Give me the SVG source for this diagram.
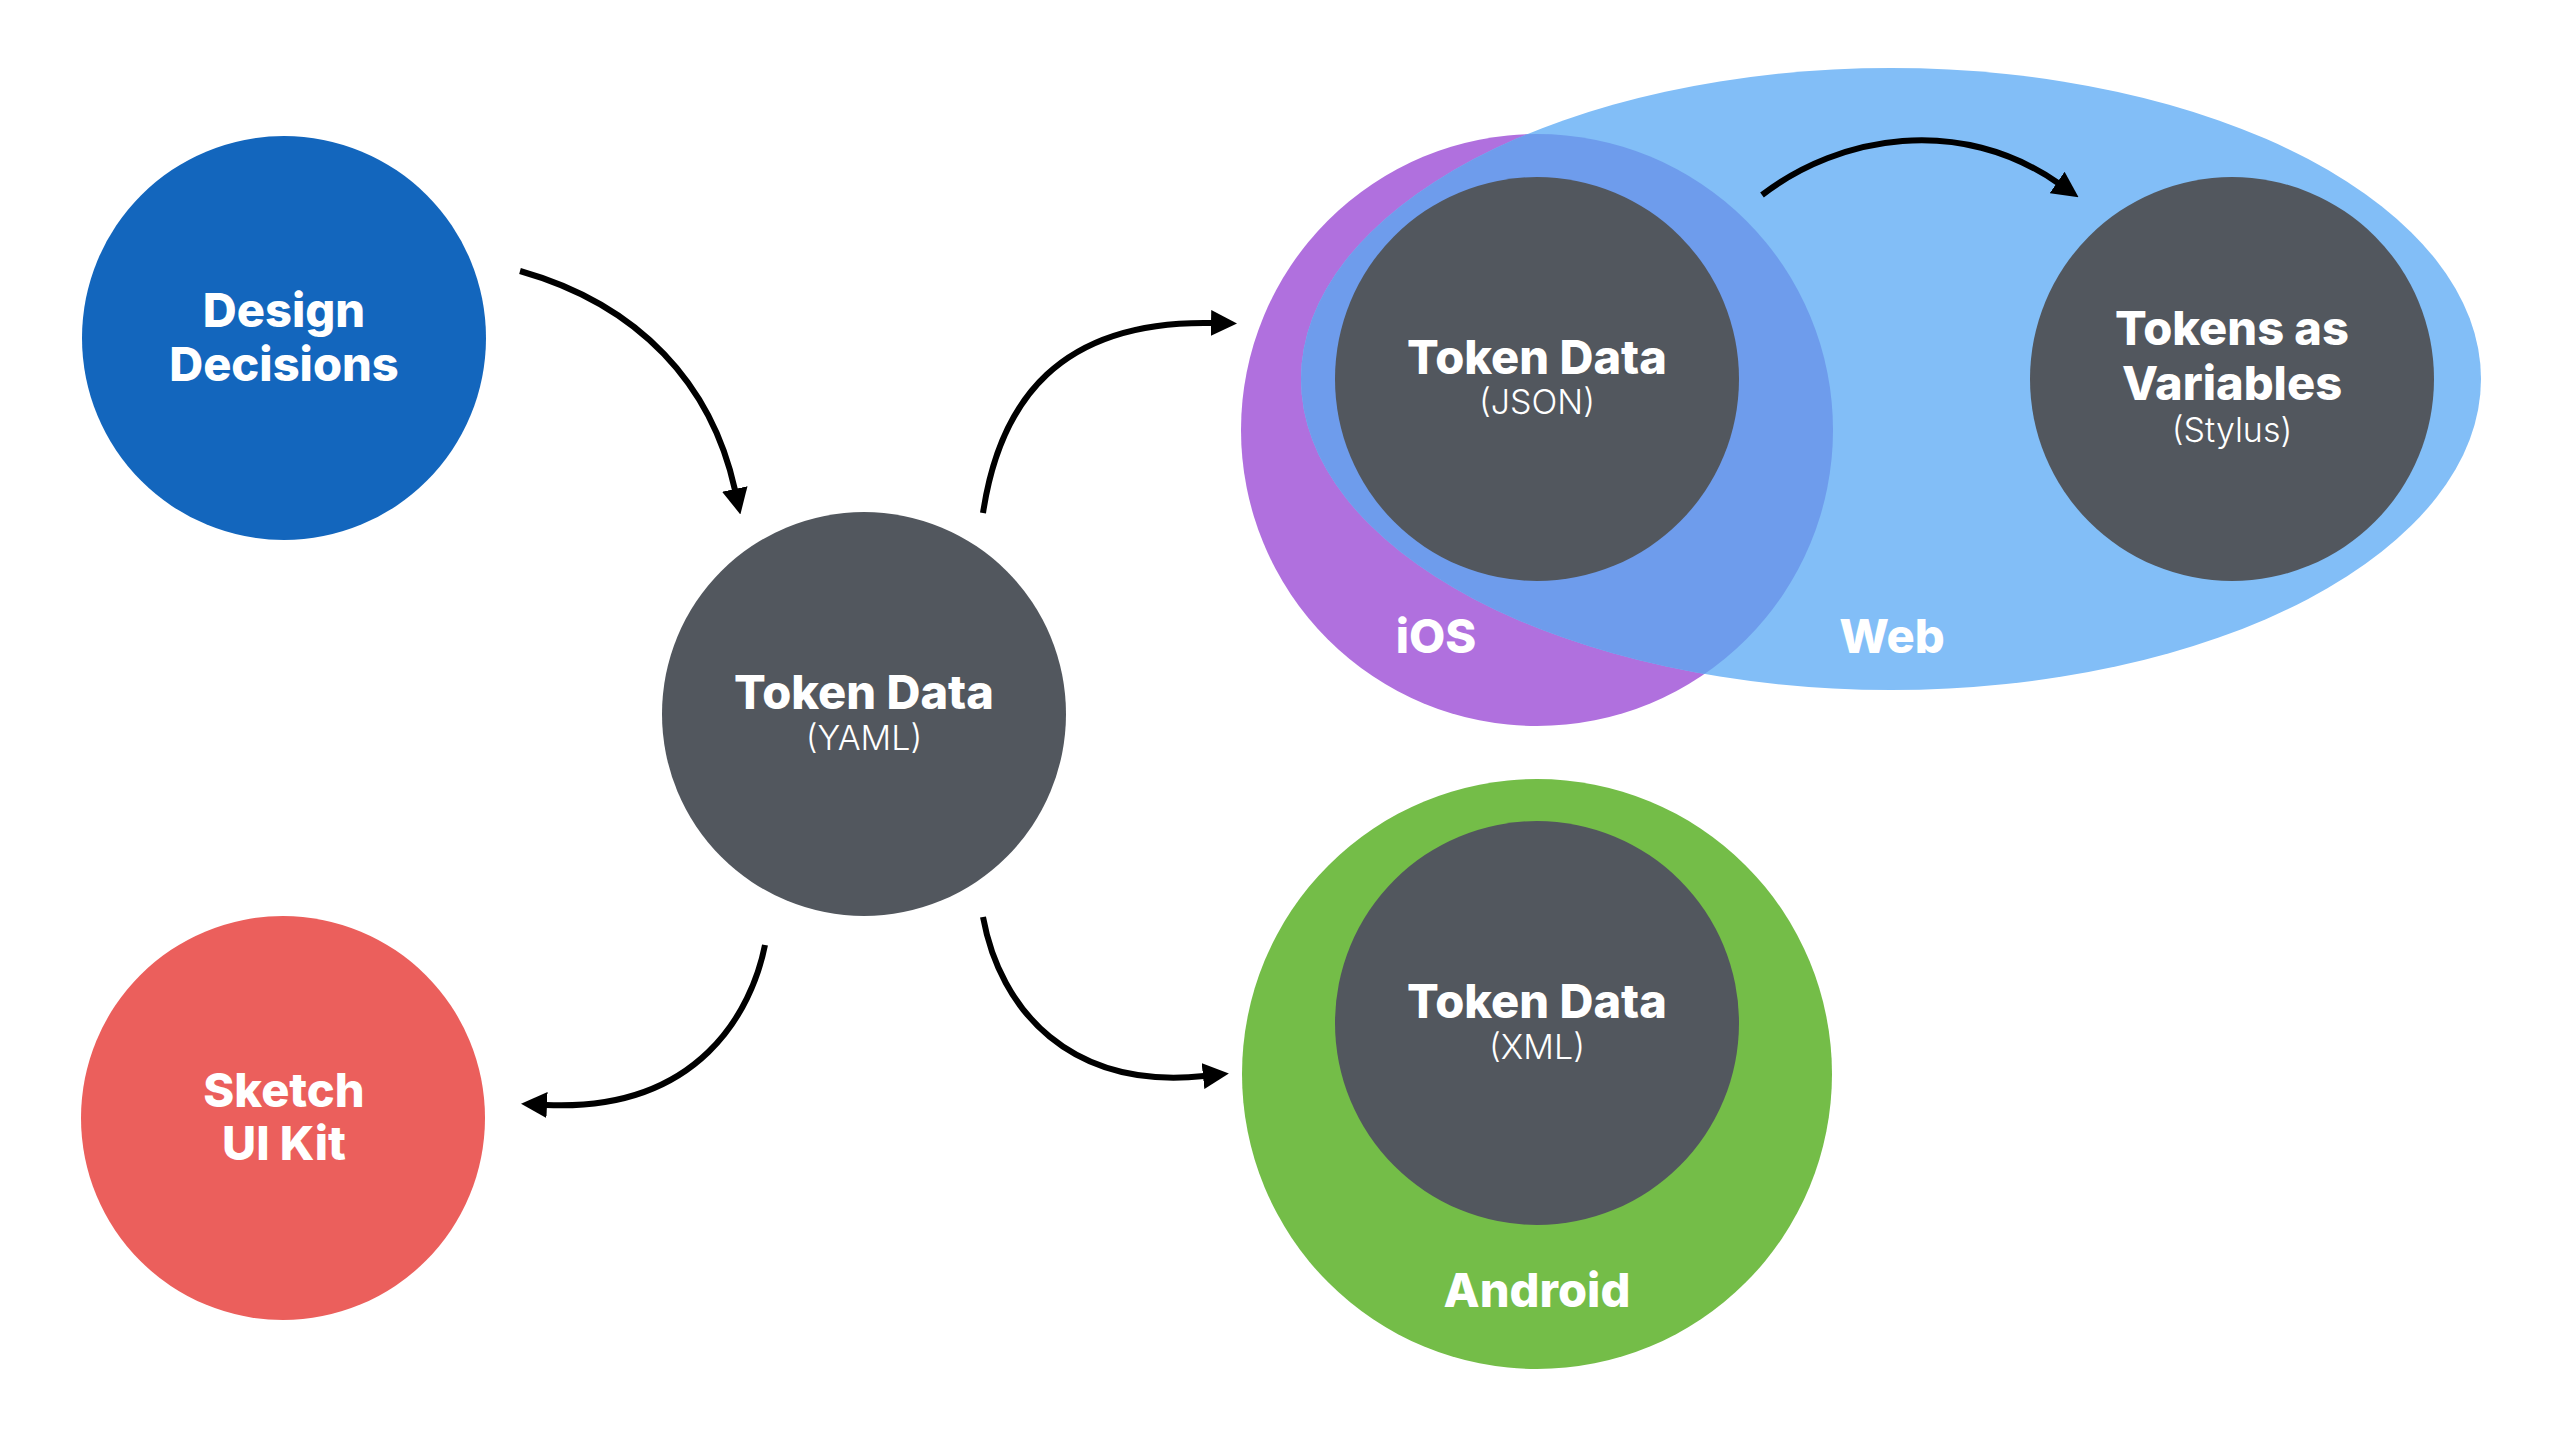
<svg xmlns="http://www.w3.org/2000/svg" width="2560" height="1438" viewBox="0 0 2560 1438">
<style>
.bg{fill:#ffffff}
.dark{fill:#52575E}
.t{font-family:Inter,Lato,"Liberation Sans",sans-serif;font-weight:800;font-size:47px;fill:#ffffff;text-anchor:middle}
.s{font-family:Inter,Lato,"Liberation Sans",sans-serif;font-weight:300;font-size:34px;fill:#ffffff;text-anchor:middle}
.c{fill:none;stroke:#000000;stroke-width:6}
</style>
<defs>
<marker id="ah" viewBox="0 0 26 26" refX="1" refY="13" markerWidth="26" markerHeight="26" markerUnits="userSpaceOnUse" orient="auto">
<path d="M0,0 L26,13 L0,26 z" fill="#000000"/>
</marker>
<clipPath id="iosClip"><circle cx="1537" cy="430" r="296"/></clipPath>
</defs>
<rect class="bg" x="0" y="0" width="2560" height="1438"/>

<g id="ios">
<circle cx="1537" cy="430" r="296" fill="#B070DE"/>
</g>
<g id="web">
<ellipse cx="1891" cy="379" rx="590" ry="311" fill="#82BEF7"/>
<ellipse cx="1891" cy="379" rx="590" ry="311" fill="#6E9CEC" clip-path="url(#iosClip)"/>
<text class="t" x="1892" y="653">Web</text>
</g>
<g id="ios-label">
<text class="t" x="1436" y="653">iOS</text>
</g>

<g id="android">
<circle cx="1537" cy="1074" r="295" fill="#74BD48"/>
<text class="t" x="1537" y="1307">Android</text>
</g>

<g id="design-decisions">
<circle cx="284" cy="338" r="202" fill="#1366BD"/>
<text class="t" x="284" y="327">Design</text>
<text class="t" x="284" y="381">Decisions</text>
</g>

<g id="token-yaml">
<circle class="dark" cx="864" cy="714" r="202"/>
<text class="t" x="864" y="709">Token Data</text>
<text class="s" x="864" y="750">(YAML)</text>
</g>

<g id="sketch">
<circle cx="283" cy="1118" r="202" fill="#EB5F5C"/>
<text class="t" x="284" y="1107">Sketch</text>
<text class="t" x="284" y="1160">UI Kit</text>
</g>

<g id="token-json">
<circle class="dark" cx="1537" cy="379" r="202"/>
<text class="t" x="1537" y="374">Token Data</text>
<text class="s" x="1537" y="414">(JSON)</text>
</g>

<g id="tokens-stylus">
<circle class="dark" cx="2232" cy="379" r="202"/>
<text class="t" x="2232" y="345">Tokens as</text>
<text class="t" x="2232" y="400">Variables</text>
<text class="s" x="2232" y="442">(Stylus)</text>
</g>

<g id="token-xml">
<circle class="dark" cx="1537" cy="1023" r="202"/>
<text class="t" x="1537" y="1018">Token Data</text>
<text class="s" x="1537" y="1059">(XML)</text>
</g>

<g id="connectors">
<path class="c" d="M520,271 C640,305 712,385 735,490" marker-end="url(#ah)"/>
<path class="c" d="M983,513 C1000,400 1060,320 1212,323" marker-end="url(#ah)"/>
<path class="c" d="M1762,195 C1840,135 1960,115 2058,183" marker-end="url(#ah)"/>
<path class="c" d="M765,945 C752,1010 700,1112 546,1105" marker-end="url(#ah)"/>
<path class="c" d="M983,917 C1000,1010 1070,1090 1204,1076" marker-end="url(#ah)"/>
</g>
</svg>
